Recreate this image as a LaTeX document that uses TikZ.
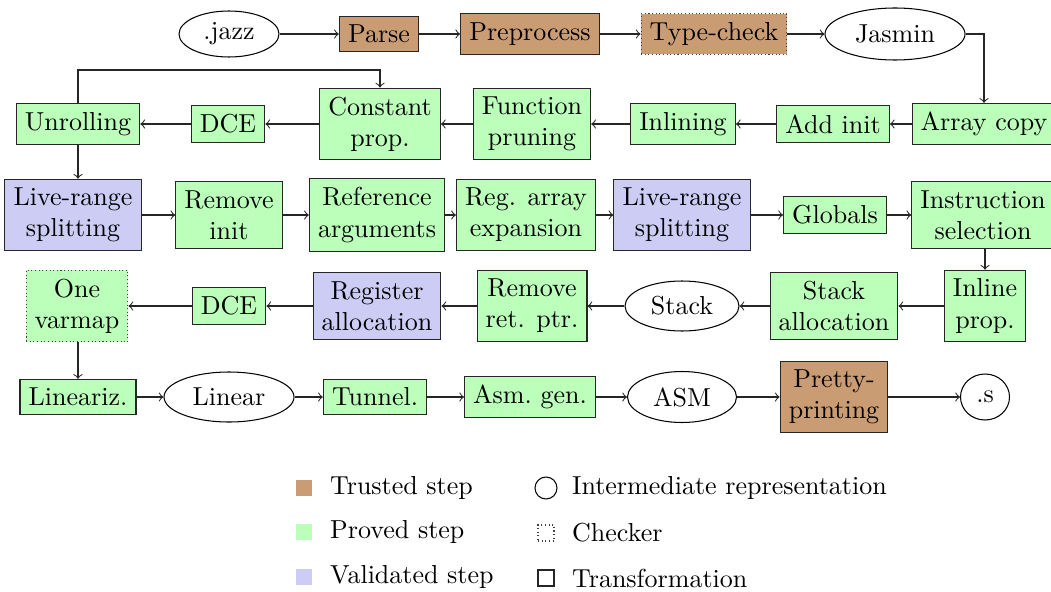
\documentclass[tikz,border=0pt]{standalone}
\usetikzlibrary{shapes.geometric}
\definecolor{trustc}{RGB}{202,156,116}
\definecolor{provedc}{RGB}{187,255,187}
\definecolor{validc}{RGB}{204,204,245}
\newlength\pxu
\setlength\pxu{0.3846pt}
\begin{document}
\begin{tikzpicture}[x=0.3846pt,y=-0.3846pt,
  box/.style={draw=black!85, rectangle, align=center},
  trusted/.style={box, fill=trustc},
  proved/.style={box, fill=provedc},
  valid/.style={box, fill=validc},
  checker/.style={draw=black!75, densely dotted},
  ir/.style={draw, ellipse, inner sep=0pt},
  conn/.style={->, draw=black!85}]
\useasboundingbox (0,0) rectangle (1051,592);
% row 1
\node[ir, minimum width=100*\pxu, minimum height=46*\pxu] (jazz) at (229,34) {.jazz};
\node[trusted] (parse) at (379,34) {Parse};
\node[trusted] (prep) at (530,34) {Preprocess};
\node[trusted, checker] (tc) at (714,34) {Type-check};
\node[ir, minimum width=140*\pxu, minimum height=52*\pxu] (jasmin) at (895,34) {Jasmin};
% row 2
\node[proved] (unroll) at (78,124) {Unrolling};
\node[proved] (dce1) at (228,124) {DCE};
\node[proved] (cprop) at (380,124) {Constant\\prop.};
\node[proved] (fprune) at (532,124) {Function\\pruning};
\node[proved] (inl) at (683,124) {Inlining};
\node[proved] (addinit) at (833,124) {Add init};
\node[proved] (acopy) at (984,124) {Array copy};
% row 3
\node[valid] (lrs1) at (73,215) {Live-range\\splitting};
\node[proved] (rinit) at (229,215) {Remove\\init};
\node[proved] (refarg) at (377,215) {Reference\\arguments};
\node[proved] (regarr) at (526,215) {Reg. array\\expansion};
\node[valid] (lrs2) at (682,215) {Live-range\\splitting};
\node[proved] (glob) at (835,215) {Globals};
\node[proved] (isel) at (983,215) {Instruction\\selection};
% row 4
\node[proved, checker] (onevar) at (77,306) {One\\varmap};
\node[proved] (dce2) at (229,306) {DCE};
\node[valid] (ralloc) at (377,306) {Register\\allocation};
\node[proved] (rret) at (532,306) {Remove\\ret. ptr.};
\node[ir, minimum width=114*\pxu, minimum height=50*\pxu] (stack) at (682,306) {Stack};
\node[proved] (salloc) at (834,306) {Stack\\allocation};
\node[proved] (iprop) at (985,306) {Inline\\prop.};
% row 5
\node[proved] (lin) at (78,397) {Lineariz.};
\node[ir, minimum width=130*\pxu, minimum height=50*\pxu] (linear) at (229,397) {Linear};
\node[proved] (tunnel) at (375,397) {Tunnel.};
\node[proved] (asmgen) at (530,397) {Asm.\ gen.};
\node[ir, minimum width=109*\pxu, minimum height=51*\pxu] (asm) at (682,397) {ASM};
\node[trusted] (pp) at (834,397) {Pretty-\\printing};
\node[ir, minimum width=49*\pxu, minimum height=46*\pxu] (dots) at (985,397) {.s};
% connectors
\draw[conn] (jazz) -- (parse);
\draw[conn] (parse) -- (prep);
\draw[conn] (prep) -- (tc);
\draw[conn] (tc) -- (jasmin);
\draw[conn] (jasmin.east) -| (acopy.north);
\draw[conn] (acopy) -- (addinit);
\draw[conn] (addinit) -- (inl);
\draw[conn] (inl) -- (fprune);
\draw[conn] (fprune) -- (cprop);
\draw[conn] (cprop) -- (dce1);
\draw[conn] (dce1) -- (unroll);
\coordinate (topline) at (0,70);
\draw[conn] (unroll.north) -- (unroll.north |- topline) -| (cprop.north);
\draw[conn] (unroll.south) -- (unroll.south |- lrs1.north);
\draw[conn] (lrs1) -- (rinit);
\draw[conn] (rinit) -- (refarg);
\draw[conn] (refarg) -- (regarr);
\draw[conn] (regarr) -- (lrs2);
\draw[conn] (lrs2) -- (glob);
\draw[conn] (glob) -- (isel);
\draw[conn] (isel.south -| iprop.north) -- (iprop.north);
\draw[conn] (iprop) -- (salloc);
\draw[conn] (salloc) -- (stack);
\draw[conn] (stack) -- (rret);
\draw[conn] (rret) -- (ralloc);
\draw[conn] (ralloc) -- (dce2);
\draw[conn] (dce2) -- (onevar);
\draw[conn] (onevar.south -| lin.north) -- (lin.north);
\draw[conn] (lin) -- (linear);
\draw[conn] (linear) -- (tunnel);
\draw[conn] (tunnel) -- (asmgen);
\draw[conn] (asmgen) -- (asm);
\draw[conn] (asm) -- (pp);
\draw[conn] (pp) -- (dots);
% legend
\node[fill=trustc, inner sep=0pt, minimum size=16*\pxu] (lt) at (304,488) {};
\node[anchor=west] (ltt) at (321,488) {Trusted step};
\node[fill=provedc, inner sep=0pt, minimum size=16*\pxu] (lp) at (304,532) {};
\node[anchor=west] (lpt) at (321,532) {Proved step};
\node[fill=validc, inner sep=0pt, minimum size=16*\pxu] (lv) at (304,577) {};
\node[anchor=west] (lvt) at (321,577) {Validated step};
\node[draw, circle, inner sep=0pt, minimum size=22*\pxu] (li) at (546,488) {};
\node[anchor=west] (lit) at (563,488) {Intermediate representation};
\node[draw=black!75, densely dotted, inner sep=0pt, minimum size=16*\pxu] (lc) at (546,533) {};
\node[anchor=west] (lct) at (563,533) {Checker};
\node[draw=black!85, inner sep=0pt, minimum size=16*\pxu] (ltr) at (546,578) {};
\node[anchor=west] (ltrt) at (563,578) {Transformation};
\end{tikzpicture}
\end{document}
